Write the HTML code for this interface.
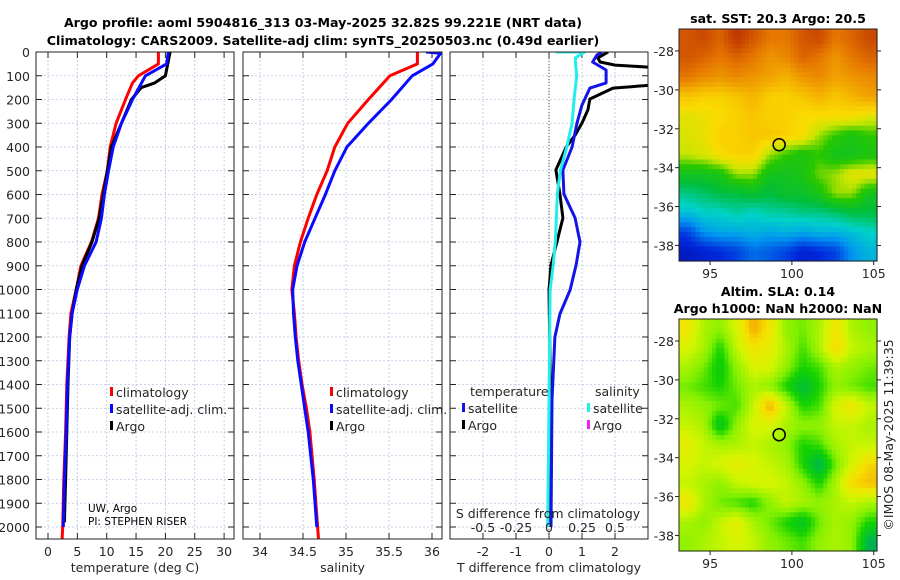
<!DOCTYPE html>
<html><head><meta charset="utf-8"><style>
body{margin:0;background:#fff;}
svg{display:block;font-family:"DejaVu Sans","Liberation Sans",sans-serif;}
.t{font-size:12.5px;fill:#262626}
.b{font-weight:bold;font-size:12.6px;fill:#000}
</style></head><body>
<svg id="s" width="900" height="580" viewBox="0 0 900 580" xmlns="http://www.w3.org/2000/svg">
<text class="b" x="323" y="27" text-anchor="middle">Argo profile: aoml 5904816_313 03-May-2025 32.82S 99.221E (NRT data)</text>
<text class="b" x="323" y="45" text-anchor="middle">Climatology: CARS2009. Satellite-adj clim: synTS_20250503.nc (0.49d earlier)</text>
<text class="b" x="778" y="23" text-anchor="middle">sat. SST: 20.3 Argo: 20.5</text>
<text class="b" x="778" y="296" text-anchor="middle">Altim. SLA: 0.14</text>
<text class="b" x="778" y="313" text-anchor="middle">Argo h1000: NaN h2000: NaN</text>
<text class="t" transform="translate(893,435) rotate(-90)" text-anchor="middle">©IMOS 08-May-2025 11:39:35</text>
<g id="g"></g>
</svg>
<script>
// ---- data ----
const depthTicks=[0,100,200,300,400,500,600,700,800,900,1000,1100,1200,1300,1400,1500,1600,1700,1800,1900,2000];
const tempTicks=[0,5,10,15,20,25,30];
const salTicks=[34,34.5,35,35.5,36];
const tdiffTicks=[-2,-1,0,1,2];
const sdiffTicks=[-0.5,-0.25,0,0.25,0.5];
const sdiffLabels=["-0.5","-0.25","0","0.25","0.5"];
const climTdepth=[0,50,100,130,200,300,400,500,600,700,800,900,1000,1100,1200,1400,1600,1800,2000,2050];
const climTemp=[18.8,18.8,15.4,14.4,13.2,11.6,10.6,10.1,9.2,8.6,7.4,5.6,4.8,3.9,3.6,3.2,3.0,2.7,2.5,2.4];
const satTdepth=[0,50,100,200,300,400,500,600,700,800,900,1000,1100,1200,1400,1600,1800,2000];
const satTemp=[20.5,20.2,16.6,14.4,12.5,11.1,10.3,9.6,9.1,8.2,6.2,5.0,4.1,3.7,3.3,3.1,2.8,2.6];
const argoTdepth=[0,100,130,150,200,300,400,500,600,700,800,900,1000,1100,1200,1400,1600,1800,1980];
const argoTemp=[20.8,20.0,18.2,15.9,14.2,12.5,10.8,10.1,9.4,8.7,7.5,5.8,4.8,4.1,3.7,3.4,3.2,3.0,2.8];
const climSdepth=[0,50,100,200,300,400,500,600,700,800,900,1000,1100,1200,1300,1400,1500,1600,1800,2000,2050];
const climSal=[35.83,35.83,35.51,35.26,35.02,34.87,34.78,34.66,34.56,34.47,34.40,34.37,34.40,34.42,34.45,34.49,34.54,34.58,34.63,34.67,34.68];
const satSdepth=[0,5,50,100,200,300,400,500,600,700,800,900,1000,1100,1200,1300,1400,1500,1600,1800,2000];
const satSal=[35.93,36.1,36.01,35.77,35.53,35.26,35.01,34.87,34.76,34.64,34.52,34.43,34.38,34.39,34.41,34.44,34.48,34.52,34.56,34.62,34.66];
const dTsatDepth=[0,13,42,76,130,152,223,299,400,497,598,699,800,897,1002,1103,1200,1465,2000];
const dTsat=[1.61,1.45,1.32,1.73,1.73,1.24,1.0,0.85,0.7,0.42,0.45,0.79,0.94,0.82,0.64,0.33,0.18,0.09,0.06];
const dTargoDepth=[0,25,42,55,72,130,152,198,244,299,350,400,497,598,699,800,897,1002,1500,1980];
const dTargo=[1.79,1.48,1.55,2.0,4.0,4.0,1.94,1.24,1.18,1.0,0.79,0.52,0.21,0.33,0.42,0.24,0.06,0.0,0.05,0.05];
const dSsatDepth=[0,0,25,42,100,150,198,299,400,497,598,699,800,897,1002,1500,2000];
const dSsat=[0.05,0.27,0.2,0.2,0.21,0.2,0.19,0.175,0.135,0.087,0.063,0.056,0.048,0.032,0.008,0,-0.01];
const lonTicks=[95,100,105];
const latTicks=[-28,-30,-32,-34,-36,-38];
const argoLon=99.221, argoLat=-32.82;
const sstGrid=[
[0.9,0.92,0.88,0.95,0.9,0.85,0.85,0.9,0.92,0.85,0.88,0.92],
[0.9,0.88,0.85,0.88,0.85,0.8,0.82,0.88,0.85,0.8,0.85,0.88],
[0.85,0.82,0.8,0.82,0.8,0.78,0.75,0.8,0.82,0.78,0.8,0.82],
[0.72,0.7,0.7,0.72,0.75,0.7,0.7,0.72,0.75,0.72,0.75,0.78],
[0.65,0.66,0.68,0.7,0.72,0.7,0.7,0.68,0.68,0.68,0.68,0.65],
[0.64,0.66,0.7,0.7,0.72,0.72,0.7,0.68,0.6,0.55,0.52,0.55],
[0.62,0.64,0.68,0.7,0.7,0.6,0.55,0.52,0.55,0.5,0.5,0.52],
[0.5,0.5,0.52,0.6,0.6,0.5,0.5,0.52,0.58,0.6,0.65,0.66],
[0.4,0.42,0.45,0.45,0.48,0.45,0.48,0.48,0.52,0.6,0.6,0.5],
[0.32,0.35,0.35,0.38,0.35,0.38,0.38,0.4,0.4,0.42,0.45,0.45],
[0.15,0.25,0.28,0.28,0.3,0.28,0.3,0.28,0.3,0.3,0.32,0.35],
[0.08,0.1,0.12,0.15,0.2,0.18,0.15,0.1,0.12,0.15,0.25,0.3]];
const slaGrid=[
[0.7,0.5,0.45,0.6,0.85,0.7,0.45,0.4,0.5,0.7,0.5,0.45],
[0.6,0.5,0.3,0.55,0.7,0.65,0.5,0.35,0.5,0.75,0.55,0.5],
[0.5,0.4,0.25,0.45,0.6,0.6,0.45,0.3,0.35,0.5,0.45,0.4],
[0.4,0.35,0.3,0.4,0.5,0.45,0.3,0.15,0.3,0.45,0.4,0.35],
[0.5,0.45,0.4,0.35,0.55,0.85,0.55,0.3,0.35,0.6,0.7,0.55],
[0.55,0.5,0.2,0.45,0.6,0.6,0.5,0.45,0.45,0.55,0.55,0.5],
[0.65,0.55,0.5,0.5,0.55,0.5,0.45,0.3,0.35,0.5,0.55,0.55],
[0.6,0.55,0.6,0.65,0.6,0.55,0.5,0.3,0.1,0.4,0.6,0.75],
[0.55,0.5,0.45,0.55,0.6,0.6,0.55,0.45,0.3,0.5,0.75,0.8],
[0.7,0.5,0.4,0.35,0.3,0.45,0.55,0.5,0.45,0.5,0.55,0.5],
[0.5,0.45,0.55,0.65,0.5,0.4,0.3,0.2,0.4,0.5,0.45,0.3],
[0.45,0.5,0.55,0.6,0.55,0.45,0.4,0.35,0.45,0.5,0.45,0.1]];

const NS="http://www.w3.org/2000/svg";
const G=document.getElementById('g');
function el(tag,attrs,parent){const e=document.createElementNS(NS,tag);for(const k in attrs)e.setAttribute(k,attrs[k]);(parent||G).appendChild(e);return e;}
function txt(x,y,s,anchor,cls,parent){const t=el('text',{x:x,y:y,'text-anchor':anchor||'middle','class':cls||'t'},parent);t.textContent=s;return t;}

const TOP=52,BOT=539;
const yD=d=>TOP+d*0.2375;
const panels=[
 {l:36,r:234,x:v=>48+v*5.87,ticks:tempTicks,labs:tempTicks.map(String),title:'temperature (deg C)',name:'temperature'},
 {l:243,r:442,x:v=>260+(v-34)*86,ticks:salTicks,labs:salTicks.map(String),title:'salinity',name:'salinity'},
 {l:450,r:648,x:v=>549+v*33,ticks:tdiffTicks,labs:tdiffTicks.map(String),title:'T difference from climatology',name:'difference'}];
const xS=v=>549+v*132;

panels.forEach((p,i)=>{
 const g=el('g',{});
 
 
 const cid='clip'+i;
 const cp=el('clipPath',{id:cid},g);el('rect',{x:p.l,y:TOP,width:p.r-p.l,height:BOT-TOP},cp);
 depthTicks.forEach(d=>{
  const ln=el('line',{x1:p.l,x2:p.r,y1:yD(d),y2:yD(d),stroke:'#b8c4e0','stroke-width':0.8,'stroke-dasharray':'2,2'},g);
  
  el('line',{x1:p.l,x2:p.l+6,y1:yD(d),y2:yD(d),stroke:'#222'},g);
  el('line',{x1:p.r-6,x2:p.r,y1:yD(d),y2:yD(d),stroke:'#222'},g);
  if(i===0){const t=txt(30,yD(d)+5,String(d),'end','t',g);}
 });
 p.ticks.forEach((v,j)=>{
  const xx=p.x(v);
  el('line',{x1:xx,x2:xx,y1:TOP,y2:BOT,stroke:'#b8c4e0','stroke-width':0.8,'stroke-dasharray':'2,2'},g);
  el('line',{x1:xx,x2:xx,y1:BOT,y2:BOT-6,stroke:'#222'},g);
  el('line',{x1:xx,x2:xx,y1:TOP,y2:TOP+6,stroke:'#222'},g);
  const t=txt(xx,556,p.labs[j],'middle','t',g);
 });
 const tt=txt((p.l+p.r)/2,572,p.title,'middle','t',g);
 
 p.clip='url(#'+cid+')';p.g=g;
});

function line(pi,xs,ds,xf,color,name,w){
 const p=panels[pi];
 const pts=xs.map((v,k)=>xf(v).toFixed(1)+','+yD(ds[k]).toFixed(1)).join(' ');
 const pl=el('polyline',{points:pts,fill:'none',stroke:color,'stroke-width':w||3,'stroke-linejoin':'round','clip-path':p.clip},p.g);
 
 
}
const zl=el('line',{x1:549,x2:549,y1:TOP,y2:BOT,stroke:'#445533','stroke-width':1,'stroke-dasharray':'1,2'},panels[2].g);


line(0,climTemp,climTdepth,panels[0].x,'#ff0000','climatology-temperature-line');
line(0,argoTemp,argoTdepth,panels[0].x,'#000000','argo-temperature-line');
line(0,satTemp,satTdepth,panels[0].x,'#0a0aff','satellite-temperature-line');
line(1,climSal,climSdepth,panels[1].x,'#ff0000','climatology-salinity-line');
line(1,satSal,satSdepth,panels[1].x,'#0a0aff','satellite-salinity-line');
line(2,dTargo,dTargoDepth,panels[2].x,'#000000','argo-tdiff-line');
line(2,dTsat,dTsatDepth,panels[2].x,'#1414e6','satellite-tdiff-line');
line(2,dSsat,dSsatDepth,xS,'#22eeee','satellite-sdiff-line');

panels.forEach(p=>{const r=el('rect',{x:p.l,y:TOP,width:p.r-p.l,height:BOT-TOP,fill:'none',stroke:'#222','stroke-width':1},p.g);});

const st=txt(548,518,'S difference from climatology','middle','t',panels[2].g);

sdiffTicks.forEach((v,j)=>{const t=txt(xS(v),532,sdiffLabels[j],'middle','t',panels[2].g);});

function legend(x,y,color,label,name){
 const g=el('g',{});
 
 
 el('rect',{x:x,y:y-10,width:3,height:9,fill:color},g);
 txt(x+6,y,label,'start','t',g);
}
[[110,'#ff0000','climatology'],[110,'#0a0aff','satellite-adj. clim.'],[110,'#000','Argo']].forEach((a,k)=>legend(a[0],397+k*17,a[1],a[2],'temp-legend-entry'));
[[330,'#ff0000','climatology'],[330,'#0a0aff','satellite-adj. clim.'],[330,'#000','Argo']].forEach((a,k)=>legend(a[0],397+k*17,a[1],a[2],'sal-legend-entry'));
const lt=txt(470,396,'temperature','start','t');
const ls=txt(595,396,'salinity','start','t');
legend(462,413,'#1414e6','satellite','tdiff-legend-satellite');
legend(462,430,'#000','Argo','tdiff-legend-argo');
legend(587,413,'#22eeee','satellite','sdiff-legend-satellite');
legend(587,430,'#ee22ee','Argo','sdiff-legend-argo');
const pi1=txt(88,512,'UW, Argo','start','t');pi1.setAttribute('style','font-size:10.5px;fill:#000');
const pi2=txt(88,525,'PI: STEPHEN RISER','start','t');pi2.setAttribute('style','font-size:10.5px;fill:#000');

// ---- maps ----
function lerpC(stops,v){v=Math.max(0,Math.min(1,v));for(let i=1;i<stops.length;i++){if(v<=stops[i][0]){const a=stops[i-1],b=stops[i],t=(v-a[0])/(b[0]-a[0]);return 'rgb('+[1,2,3].map(j=>Math.round(a[j]+(b[j]-a[j])*t)).join(',')+')';}}return 'rgb('+stops[stops.length-1].slice(1).join(',')+')';}
const jet=[[0,0,0,140],[0.12,0,40,220],[0.25,0,150,240],[0.35,0,210,200],[0.45,0,190,60],[0.55,40,200,0],[0.62,200,230,0],[0.68,250,220,0],[0.75,245,180,0],[0.85,230,120,0],[1,170,20,0]];
const slaMap=[[0,0,150,130],[0.15,0,190,60],[0.3,20,210,0],[0.42,130,240,0],[0.58,210,245,0],[0.72,245,225,0],[0.85,245,170,0],[1,230,110,0]];
function drawMap(m){
 const g=el('g',{});
 
 
 const lon0=93.1,lon1=105.2,lat0=-26.87,lat1=-38.8;
 const X=lo=>m.l+(lo-lon0)/(lon1-lon0)*(m.r-m.l);
 const Y=la=>m.t+(la-lat0)/(lat1-lat0)*(m.b-m.t);
 const grid=m.grid,nr=grid.length,nc=grid[0].length;
 const up=4,R=nr*up,C=nc*up,cw=(m.r-m.l)/C,ch=(m.b-m.t)/R;
 function val(r,c){r=Math.max(0,Math.min(nr-1,r));c=Math.max(0,Math.min(nc-1,c));const r0=Math.floor(r),c0=Math.floor(c),r1=Math.min(nr-1,r0+1),c1=Math.min(nc-1,c0+1),fr=r-r0,fc=c-c0;return grid[r0][c0]*(1-fr)*(1-fc)+grid[r0][c1]*(1-fr)*fc+grid[r1][c0]*fr*(1-fc)+grid[r1][c1]*fr*fc;}
 for(let i=0;i<R;i++)for(let j=0;j<C;j++){
  const v=val((i+0.5)/up-0.5,(j+0.5)/up-0.5);
  const c=el('rect',{x:(m.l+j*cw).toFixed(2),y:(m.t+i*ch).toFixed(2),width:(cw+0.6).toFixed(2),height:(ch+0.6).toFixed(2),fill:lerpC(m.cmap,v)},g);
  
  
 }
 el('rect',{x:m.l,y:m.t,width:m.r-m.l,height:m.b-m.t,fill:'none',stroke:'#222'},g);
 lonTicks.forEach(lo=>{el('line',{x1:X(lo),x2:X(lo),y1:m.b,y2:m.b+4,stroke:'#222'},g);const t=txt(X(lo),m.b+17,String(lo),'middle','t',g);});
 latTicks.forEach(la=>{el('line',{x1:m.l-4,x2:m.l,y1:Y(la),y2:Y(la),stroke:'#222'},g);el('line',{x1:m.r,x2:m.r+4,y1:Y(la),y2:Y(la),stroke:'#222'},g);const t=txt(m.l-5,Y(la)+5,String(la),'end','t',g);});
 const mk=el('circle',{cx:X(argoLon),cy:Y(argoLat),r:6,fill:'none',stroke:'#000','stroke-width':1.5},g);
 
 
}
drawMap({name:'sst-map',l:679,r:877,t:29,b:261,grid:sstGrid,cmap:jet});
drawMap({name:'sla-map',l:679,r:877,t:319,b:551,grid:slaGrid,cmap:slaMap});
</script>
</body></html>
